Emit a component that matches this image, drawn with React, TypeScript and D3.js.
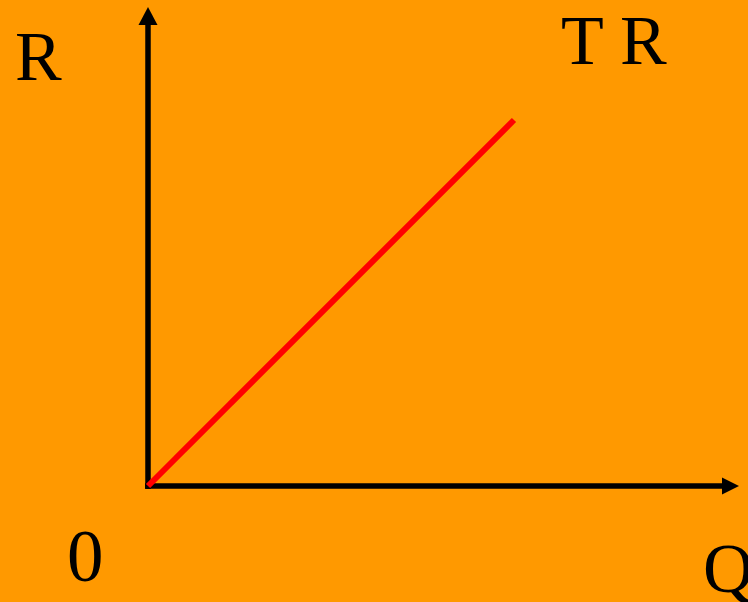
import React from "react";
import * as d3 from "d3";

const quantities = [0, 10];
const totalRevenue = [0, 10];
const axisLabels = { y: "R", x: "Q", origin: "0", curve: "T R" };

const W = 748;
const H = 602;

export default function App() {
  const x = d3.scaleLinear().domain([0, 10]).range([148, 514]);
  const y = d3.scaleLinear().domain([0, 10]).range([486, 120]);
  const pts: [number, number][] = quantities.map((q, i) => [q, totalRevenue[i]]);
  const line = d3
    .line<[number, number]>()
    .x((d) => x(d[0]))
    .y((d) => y(d[1]));

  const ox = x(0);
  const oy = y(0);
  const font = "'Liberation Serif', 'Times New Roman', serif";

  return (
    <svg
      width={W}
      height={H}
      style={{ position: "absolute", left: 0, top: 0, display: "block" }}
    >
      <rect x={0} y={0} width={W} height={H} fill="#FF9900" />
      {/* y axis */}
      <line x1={ox} y1={oy + 3} x2={ox} y2={24} stroke="#000" strokeWidth={5.5} />
      <path d={`M${ox - 9.5},25 L${ox},7 L${ox + 9.5},25 Z`} fill="#000" />
      {/* x axis */}
      <line x1={ox - 3} y1={oy} x2={723} y2={oy} stroke="#000" strokeWidth={5.5} />
      <path d={`M722,${oy - 8.5} L739,${oy} L722,${oy + 8.5} Z`} fill="#000" />
      {/* TR line */}
      <path d={line(pts) || ""} stroke="#FF0000" strokeWidth={6} fill="none" />
      <g fontFamily={font} fontSize={70} fill="#000">
        <text x={15} y={80}>{axisLabels.y}</text>
        <text x={561} y={64}>{axisLabels.curve}</text>
        <text x={67} y={581} fontSize={73}>{axisLabels.origin}</text>
        <text x={703} y={592}>{axisLabels.x}</text>
      </g>
    </svg>
  );
}
